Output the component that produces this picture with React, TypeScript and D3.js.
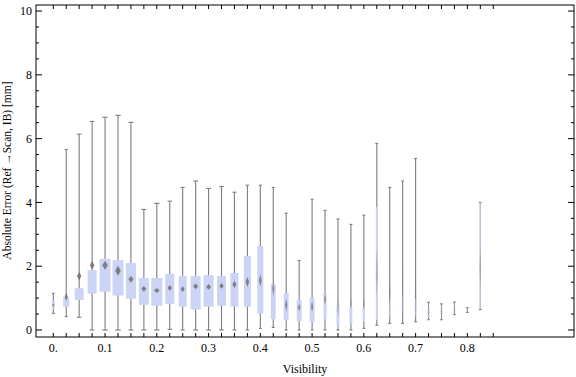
import React from "react";
import * as d3 from "d3";

const visibility = [0, 0.025, 0.05, 0.075, 0.1, 0.125, 0.15, 0.175, 0.2, 0.225, 0.25, 0.275, 0.3, 0.325, 0.35, 0.375, 0.4, 0.425, 0.45, 0.475, 0.5, 0.525, 0.55, 0.575, 0.6, 0.625, 0.65, 0.675, 0.7, 0.725, 0.75, 0.775, 0.8, 0.825];
const whiskerHi = [1.15, 5.66, 6.14, 6.54, 6.67, 6.73, 6.51, 3.78, 3.97, 4.04, 4.47, 4.67, 4.44, 4.5, 4.32, 4.54, 4.54, 4.47, 3.66, 2.18, 4.1, 3.75, 3.48, 3.31, 3.6, 5.85, 4.47, 4.67, 5.38, 0.87, 0.82, 0.88, 0.7, 4.0];
const whiskerLo = [0.52, 0.42, 0.4, 0, 0, 0, 0, 0, 0, 0.02, 0, 0, 0, 0, 0, 0, 0.05, 0.08, 0, 0, 0, 0, 0, 0, 0.05, 0.15, 0.21, 0.21, 0.26, 0.32, 0.32, 0.48, 0.55, 0.64];
const q3 = [0.92, 1.04, 1.31, 1.88, 2.23, 2.19, 2.1, 1.63, 1.63, 1.76, 1.69, 1.69, 1.72, 1.69, 1.79, 2.32, 2.63, 1.44, 1.16, 0.94, 1.0, 1.16, 0.78, 0.72, 0.69, 3.85, 0.89, 1.04, 0.98, 0.68, 0.72, 0.7, 0.66, 4.0];
const q1 = [0.66, 0.73, 0.94, 1.14, 1.2, 1.08, 0.98, 0.79, 0.76, 0.82, 0.73, 0.64, 0.73, 0.76, 0.73, 0.73, 0.51, 0.34, 0.31, 0.28, 0.25, 0.34, 0.1, 0.2, 0.26, 0.32, 0.42, 0.6, 0.42, 0.4, 0.47, 0.55, 0.58, 0.65];
const meanValue = [0.78, 1.04, 1.69, 2.03, 2.03, 1.86, 1.59, 1.29, 1.24, 1.32, 1.28, 1.37, 1.35, 1.38, 1.43, 1.51, 1.55, 1.29, 0.78, 0.71, 0.73, 0.96, 0.69, 0.83, 0.83, 1.79, 1.2, 1.36, 1.15, 0.55, 0.58, 0.6, 0.62, 1.94];
const meanSpread = [0.06, 0.13, 0.13, 0.14, 0.14, 0.16, 0.11, 0.09, 0.08, 0.09, 0.09, 0.09, 0.09, 0.09, 0.11, 0.16, 0.19, 0.24, 0.2, 0.13, 0.17, 0.2, 0.31, 0.22, 0.22, 0.8, 0.38, 1.5, 1.0, 0.13, 0.13, 0.13, 0.06, 0.56];
// relative sample weight (drives box width / opacity in the original chart)
const weight = [0.27, 0.55, 0.82, 0.82, 1, 1, 0.91, 0.91, 1, 0.82, 0.73, 0.91, 0.91, 0.82, 0.73, 0.64, 0.55, 0.45, 0.45, 0.45, 0.45, 0.27, 0.27, 0.27, 0.21, 0.18, 0.18, 0.18, 0.18, 0.18, 0.16, 0.14, 0.14, 0.1];
const boxOpacity = [1, 1, 1, 1, 1, 1, 1, 1, 1, 1, 1, 1, 1, 1, 1, 1, 1, 1, 1, 1, 1, 1, 1, 1, 1, 1, 0.6, 0.45, 0.6, 0.6, 0.4, 0.5, 0.3, 0.8];
const meanOpacity = [0.85, 0.85, 0.85, 0.85, 0.85, 0.85, 0.85, 0.85, 0.85, 0.85, 0.85, 0.85, 0.85, 0.85, 0.85, 0.8, 0.75, 0.6, 0.7, 0.7, 0.7, 0.65, 0.35, 0.3, 0.3, 0.35, 0.3, 0.08, 0.12, 0.25, 0.25, 0.25, 0.2, 0.3];

const xTickValues = d3.range(0, 35).map((i) => i * 0.025);
const xLabelValues = [0, 0.1, 0.2, 0.3, 0.4, 0.5, 0.6, 0.7, 0.8];
const xLabelText = ["0.", "0.1", "0.2", "0.3", "0.4", "0.5", "0.6", "0.7", "0.8"];
const yMinorValues = d3.range(0, 21).map((i) => i * 0.5);
const yLabelValues = [0, 2, 4, 6, 8, 10];

const W = 576;
const H = 377;
const left = 36, right = 574, top = 5, bottom = 337;

export default function App() {
  const x = d3.scaleLinear().domain([-0.0334, 1.006]).range([left, right]);
  const y = d3.scaleLinear().domain([-0.22, 10.19]).range([bottom, top]);
  const maxBoxW = 11;
  const font = "'Liberation Serif', 'Times New Roman', serif";

  return (
    <div style={{ position: "fixed", left: 0, top: 0 }}>
      <svg width={W} height={H} style={{ display: "block", background: "#fff" }}>
        <defs>
          <filter id="soft" x="-50%" y="-50%" width="200%" height="200%">
            <feGaussianBlur stdDeviation="0.45" />
          </filter>
        </defs>
        {/* boxes */}
        {visibility.map((v, i) => {
          const cx = x(v);
          const bw = Math.max(1, weight[i] * maxBoxW);
          const cw = Math.max(3, bw * 0.5);
          const wop = i >= 29 && i <= 32 ? 0.85 : 1;
          return (
            <g key={i}>
              <line x1={cx} x2={cx} y1={y(whiskerHi[i])} y2={y(whiskerLo[i])} stroke="#7d7d7d" strokeWidth={1.1} opacity={wop} />
              <line x1={cx - cw / 2} x2={cx + cw / 2} y1={y(whiskerHi[i])} y2={y(whiskerHi[i])} stroke="#7d7d7d" strokeWidth={1.1} opacity={wop} />
              <line x1={cx - cw / 2} x2={cx + cw / 2} y1={y(whiskerLo[i])} y2={y(whiskerLo[i])} stroke="#7d7d7d" strokeWidth={1.1} opacity={wop} />
              <rect x={cx - bw / 2} width={bw} y={y(q3[i])} height={Math.max(1, y(q1[i]) - y(q3[i]))} fill="rgb(204,212,245)" opacity={boxOpacity[i]} />
            </g>
          );
        })}
        {/* mean diamonds */}
        {visibility.map((v, i) => {
          const cx = x(v);
          const bw = Math.max(1, weight[i] * maxBoxW);
          const dw = Math.max(2, bw * 0.5) / 2;
          const yt = y(meanValue[i] + meanSpread[i]);
          const yb = y(meanValue[i] - meanSpread[i]);
          const ym = y(meanValue[i]);
          return (
            <path key={"m" + i} d={`M${cx},${yt}L${cx + dw},${ym}L${cx},${yb}L${cx - dw},${ym}Z`} fill="#6f6f6f" opacity={meanOpacity[i]} filter="url(#soft)" />
          );
        })}
        {/* frame */}
        <rect x={left} y={top} width={right - left} height={bottom - top} fill="none" stroke="#000" strokeWidth={1} />
        {/* x ticks */}
        {xTickValues.map((v, i) => (
          <g key={"xt" + i}>
            <line x1={x(v)} x2={x(v)} y1={bottom} y2={bottom - 4} stroke="#000" />
            <line x1={x(v)} x2={x(v)} y1={top} y2={top + 4} stroke="#000" />
          </g>
        ))}
        {xLabelValues.map((v, i) => (
          <text key={"xl" + i} x={x(v)} y={352} textAnchor="middle" fontFamily={font} fontSize={12} fill="#000">
            {xLabelText[i]}
          </text>
        ))}
        {/* y ticks */}
        {yMinorValues.map((v, i) => {
          const major = yLabelValues.includes(v);
          const len = major ? 6 : 3;
          return (
            <g key={"yt" + i}>
              <line x1={left} x2={left + len} y1={y(v)} y2={y(v)} stroke="#000" />
              <line x1={right} x2={right - len} y1={y(v)} y2={y(v)} stroke="#000" />
            </g>
          );
        })}
        {yLabelValues.map((v, i) => (
          <text key={"yl" + i} x={32} y={y(v)} dy="0.35em" textAnchor="end" fontFamily={font} fontSize={12} fill="#000">
            {v}
          </text>
        ))}
        <text x={305} y={373} textAnchor="middle" fontFamily={font} fontSize={12} fill="#000">Visibility</text>
        <text transform={`translate(11,${y(5.0)}) rotate(-90)`} textAnchor="middle" fontFamily={font} fontSize={11.5} fill="#000">
          Absolute Error (Ref →Scan, IB) [mm]
        </text>
      </svg>
    </div>
  );
}
